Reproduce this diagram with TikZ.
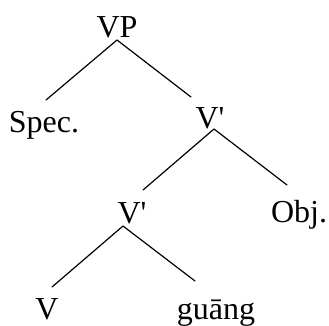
\documentclass[tikz,border=0pt]{standalone}
\usepackage{fontspec}
\setmainfont{Liberation Serif}[Ligatures=TeXOff]
\begin{document}
\begin{tikzpicture}[x=1pt,y=-1pt,
  lab/.style={anchor=base,inner sep=0pt,font=\fontsize{32}{36}\selectfont},
  branch/.style={line width=1.2pt,line cap=round}]
\useasboundingbox (0,0) rectangle (329,325);
\node[lab] (VP) at (117,37) {VP};
\node[lab] (Spec) at (44,132) {Spec.};
\node[lab] (V1) at (210,128) {V'};
\node[lab] (Obj) at (299,222) {Obj.};
\node[lab] (V2) at (132,223) {V'};
\node[lab] (V) at (47,319) {V};
\node[lab] (guang) at (216,319) {guāng};
\coordinate (VPb) at (117,40);
\coordinate (Spect) at (46,100);
\coordinate (V1t) at (191,97);
\coordinate (V1b) at (214,129);
\coordinate (V2t) at (143,190);
\coordinate (Objt) at (287,185);
\coordinate (V2b) at (123,226);
\coordinate (Vt) at (52,287);
\coordinate (gt) at (195,281);
\draw[branch] (VPb) -- (Spect);
\draw[branch] (VPb) -- (V1t);
\draw[branch] (V1b) -- (V2t);
\draw[branch] (V1b) -- (Objt);
\draw[branch] (V2b) -- (Vt);
\draw[branch] (V2b) -- (gt);
\end{tikzpicture}
\end{document}
